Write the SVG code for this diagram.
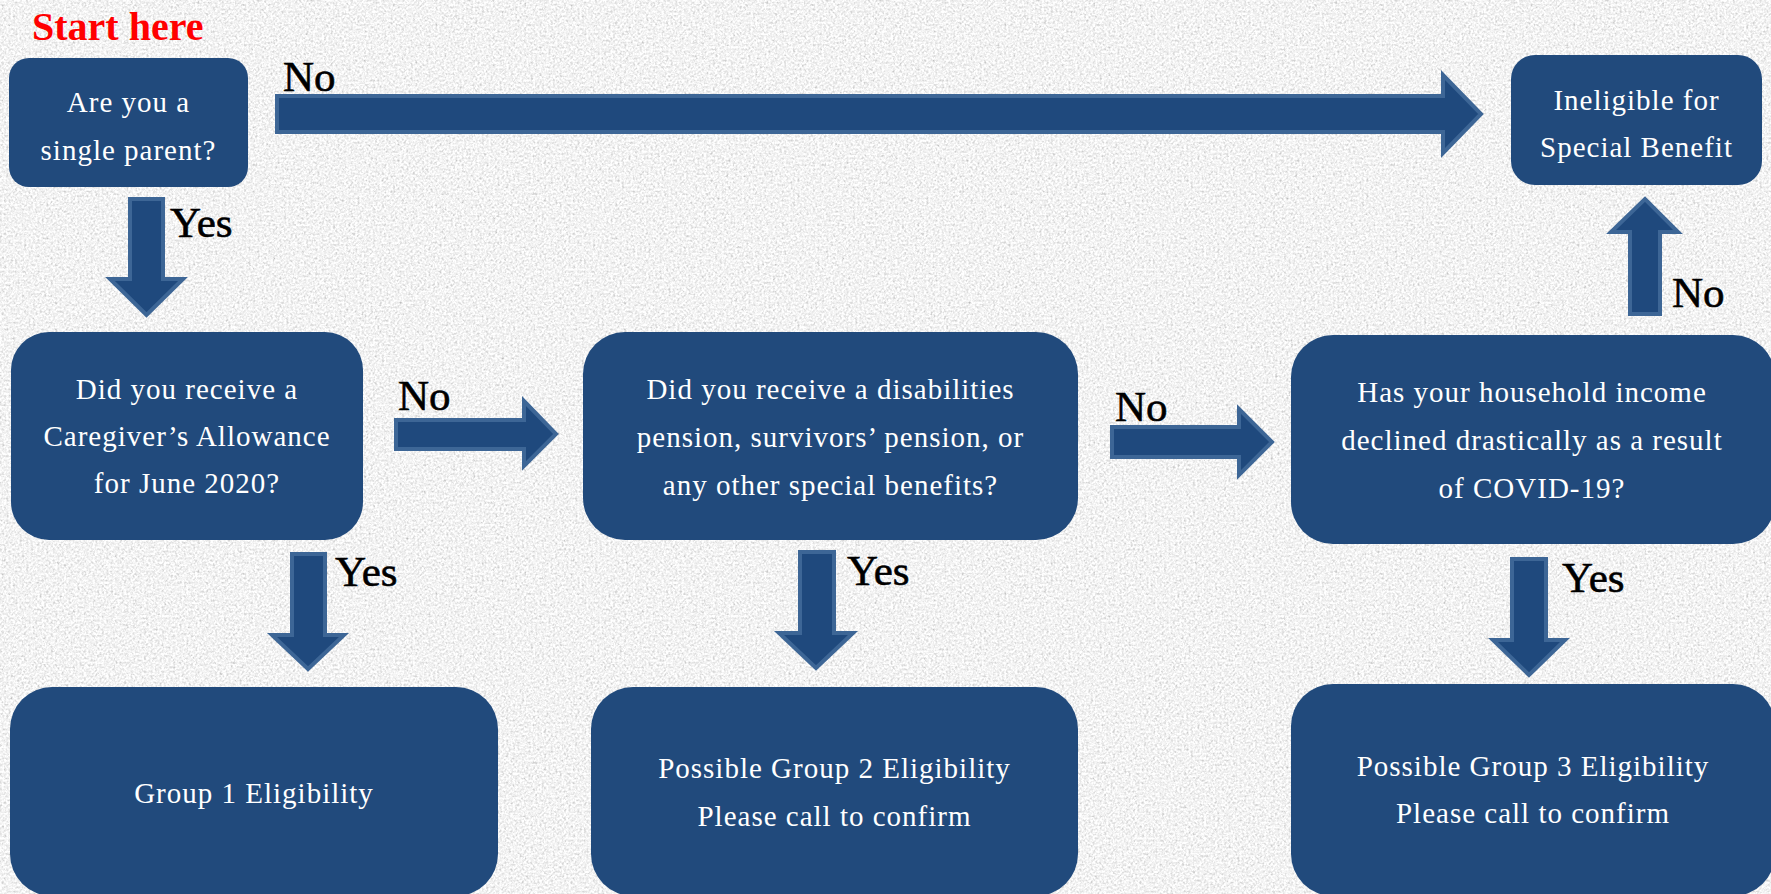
<svg xmlns="http://www.w3.org/2000/svg" width="1771" height="894" viewBox="0 0 1771 894">
<style>
.box{fill:#214A7C}
.ntxt{font-family:"Liberation Serif","Times New Roman",serif;font-size:29px;letter-spacing:1px;fill:#FFFFFF;text-anchor:middle}
.arrow{fill:#1F497D;stroke:#3D6696;stroke-width:4;stroke-linejoin:miter}
.lbl{font-family:"Liberation Serif","Times New Roman",serif;font-size:43px;fill:#000000;stroke:#000000;stroke-width:0.6}
.start{font-family:"Liberation Serif","Times New Roman",serif;font-size:40px;font-weight:bold;fill:#FF0000}
</style>
<defs>
<filter id="noise" x="0" y="0" width="100%" height="100%" filterUnits="userSpaceOnUse">
<feTurbulence type="fractalNoise" baseFrequency="0.45" numOctaves="2" seed="7" result="t"/>
<feColorMatrix in="t" type="matrix" values="0.33 0.33 0.33 0 0  0.33 0.33 0.33 0 0  0.33 0.33 0.33 0 0  0 0 0 0 1" result="g"/>
<feComponentTransfer in="g">
<feFuncR type="linear" slope="1.3" intercept="0.25"/>
<feFuncG type="linear" slope="1.3" intercept="0.25"/>
<feFuncB type="linear" slope="1.3" intercept="0.25"/>
</feComponentTransfer>
</filter>
</defs>
<rect x="0" y="0" width="1771" height="894" fill="#E6E6E6"/>
<rect x="0" y="0" width="1771" height="894" filter="url(#noise)"/>

<text class="start" x="32" y="40">Start here</text>

<g id="connectors">
<polygon class="arrow" points="277,96 1443,96 1443,75 1481,114 1443,153 1443,132 277,132"/>
<polygon class="arrow" points="130,199 163,199 163,279 183,279 146.5,315 110,279 130,279"/>
<polygon class="arrow" points="396,420 524,420 524,401 556,434 524,466 524,449 396,449"/>
<polygon class="arrow" points="292,554 325,554 325,635 344,635 308,669 272,635 292,635"/>
<polygon class="arrow" points="1112,427 1239,427 1239,409 1272,442 1239,475 1239,457 1112,457"/>
<polygon class="arrow" points="800,552 834,552 834,633 853,633 816,668 779,633 800,633"/>
<polygon class="arrow" points="1512,559 1546,559 1546,640 1565,640 1529,675 1493,640 1512,640"/>
<polygon class="arrow" points="1630,314 1660,314 1660,232 1678,232 1645,199 1611,232 1630,232"/>
<text class="lbl" x="283" y="91">No</text>
<text class="lbl" x="170" y="237">Yes</text>
<text class="lbl" x="398" y="410">No</text>
<text class="lbl" x="335" y="586">Yes</text>
<text class="lbl" x="1115" y="421">No</text>
<text class="lbl" x="847" y="585">Yes</text>
<text class="lbl" x="1562" y="592">Yes</text>
<text class="lbl" x="1672" y="307">No</text>
</g>

<g id="node-single-parent">
<rect class="box" x="9" y="58" width="239" height="129" rx="20" ry="20"/>
<text class="ntxt" x="128.5" y="112">Are you a</text>
<text class="ntxt" x="128.5" y="160">single parent?</text>
</g>

<g id="node-ineligible">
<rect class="box" x="1511" y="55" width="251" height="130" rx="24" ry="24"/>
<text class="ntxt" x="1636.5" y="110">Ineligible for</text>
<text class="ntxt" x="1636.5" y="157">Special Benefit</text>
</g>

<g id="node-caregiver">
<rect class="box" x="11" y="332" width="352" height="208" rx="38" ry="38"/>
<text class="ntxt" x="187" y="399">Did you receive a</text>
<text class="ntxt" x="187" y="446">Caregiver’s Allowance</text>
<text class="ntxt" x="187" y="493">for June 2020?</text>
</g>

<g id="node-pension">
<rect class="box" x="583" y="332" width="495" height="208" rx="42" ry="42"/>
<text class="ntxt" x="830.5" y="399">Did you receive a disabilities</text>
<text class="ntxt" x="830.5" y="447">pension, survivors’ pension, or</text>
<text class="ntxt" x="830.5" y="495">any other special benefits?</text>
</g>

<g id="node-income">
<rect class="box" x="1291" y="335" width="484" height="209" rx="42" ry="42"/>
<text class="ntxt" x="1532" y="402">Has your household income</text>
<text class="ntxt" x="1532" y="450">declined drastically as a result</text>
<text class="ntxt" x="1532" y="498">of COVID-19?</text>
</g>

<g id="node-group1">
<rect class="box" x="10" y="687" width="488" height="209" rx="42" ry="42"/>
<text class="ntxt" x="254" y="803">Group 1 Eligibility</text>
</g>

<g id="node-group2">
<rect class="box" x="591" y="687" width="487" height="209" rx="42" ry="42"/>
<text class="ntxt" x="834.5" y="778">Possible Group 2 Eligibility</text>
<text class="ntxt" x="834.5" y="826">Please call to confirm</text>
</g>

<g id="node-group3">
<rect class="box" x="1291" y="684" width="484" height="212" rx="42" ry="42"/>
<text class="ntxt" x="1533" y="776">Possible Group 3 Eligibility</text>
<text class="ntxt" x="1533" y="823">Please call to confirm</text>
</g>
</svg>
